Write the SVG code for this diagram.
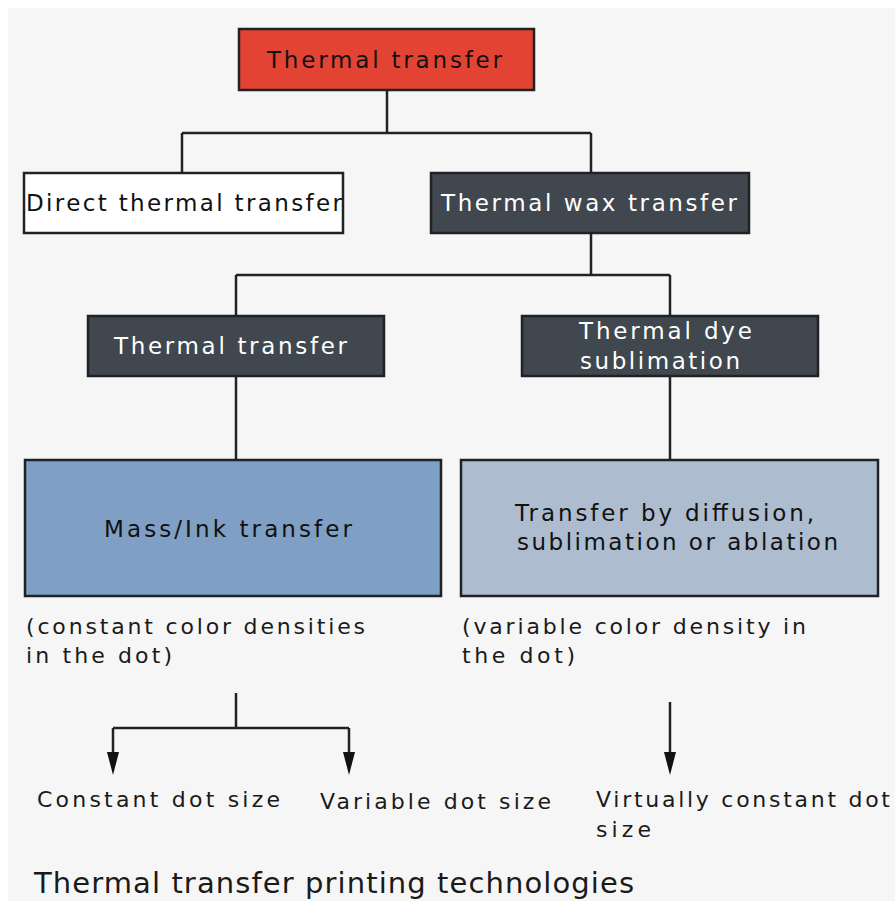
<svg xmlns="http://www.w3.org/2000/svg" width="895" height="901" viewBox="0 0 895 901">
  <style>
    .box { stroke: #1f2226; stroke-width: 2.5; }
    .red { fill: #e34333; }
    .white { fill: #ffffff; }
    .dark { fill: #40474e; }
    .blue { fill: #7f9fc4; }
    .pale { fill: #adbccf; }
    .t { font-family: "DejaVu Sans", Verdana, sans-serif; font-size: 23px; fill: #111111; }
    .tw { fill: #ffffff; }
    .note { font-family: "DejaVu Sans", Verdana, sans-serif; font-size: 22px; fill: #1a1a1a; }
    .title { font-family: "DejaVu Sans", Verdana, sans-serif; font-size: 29px; fill: #1a1a1a; }
    .line { fill: none; stroke: #222222; stroke-width: 2.5; }
    .head { fill: #111111; }
  </style>

  <!-- page -->
  <rect x="0" y="0" width="895" height="901" fill="#ffffff"/>
  <rect x="8" y="8" width="887" height="893" fill="#f6f6f6"/>

  <!-- connectors -->
  <g id="connectors">
    <path class="line" d="M387,90 V133 M182,133 H591 M182,133 V173 M591,133 V173"/>
    <path class="line" d="M591,233 V275 M236,275 H670 M236,275 V316 M670,275 V316"/>
    <path class="line" d="M236,376 V460"/>
    <path class="line" d="M670,376 V460"/>
    <path class="line" d="M236,693 V728 M113,728 H349"/>
    <path class="line" d="M113,728 V753"/>
    <path class="line" d="M349,728 V753"/>
    <path class="line" d="M670,702 V753"/>
    <path class="head" d="M107,752 L119,752 L113,775 Z"/>
    <path class="head" d="M343,752 L355,752 L349,775 Z"/>
    <path class="head" d="M664,752 L676,752 L670,775 Z"/>
  </g>

  <g id="root">
    <rect class="box red" x="239" y="29" width="295" height="61"/>
    <text class="t" x="267" y="68" textLength="235">Thermal transfer</text>
  </g>

  <g id="direct">
    <rect class="box white" x="24" y="173" width="319" height="60"/>
    <text class="t" x="26" y="211" textLength="316">Direct thermal transfer</text>
  </g>

  <g id="wax">
    <rect class="box dark" x="431" y="173" width="318" height="60"/>
    <text class="t tw" x="441" y="211" textLength="296">Thermal wax transfer</text>
  </g>

  <g id="transfer">
    <rect class="box dark" x="88" y="316" width="296" height="60"/>
    <text class="t tw" x="114" y="354" textLength="233">Thermal transfer</text>
  </g>

  <g id="dye">
    <rect class="box dark" x="522" y="316" width="296" height="60"/>
    <text class="t tw" x="579" y="339" textLength="173">Thermal dye</text>
    <text class="t tw" x="580" y="369" textLength="160">sublimation</text>
  </g>

  <g id="mass">
    <rect class="box blue" x="25" y="460" width="416" height="136"/>
    <text class="t" x="104" y="537" textLength="248">Mass/Ink transfer</text>
  </g>

  <g id="diffusion">
    <rect class="box pale" x="461" y="460" width="417" height="136"/>
    <text class="t" x="515" y="521" textLength="299">Transfer by diffusion,</text>
    <text class="t" x="517" y="550" textLength="321">sublimation or ablation</text>
  </g>

  <g id="notes">
    <text class="note" x="26" y="634" textLength="339">(constant color densities</text>
    <text class="note" x="26" y="663" textLength="146">in the dot)</text>
    <text class="note" x="462" y="634" textLength="344">(variable color density in</text>
    <text class="note" x="462" y="663" textLength="113">the dot)</text>
  </g>

  <g id="constant-dot">
    <text class="note" x="37" y="807" textLength="243">Constant dot size</text>
  </g>
  <g id="variable-dot">
    <text class="note" x="320" y="809" textLength="231">Variable dot size</text>
  </g>
  <g id="virtually-constant">
    <text class="note" x="596" y="807" textLength="294">Virtually constant dot</text>
    <text class="note" x="596" y="837" textLength="55">size</text>
  </g>

  <text class="title" x="34" y="893" textLength="600">Thermal transfer printing technologies</text>
</svg>
